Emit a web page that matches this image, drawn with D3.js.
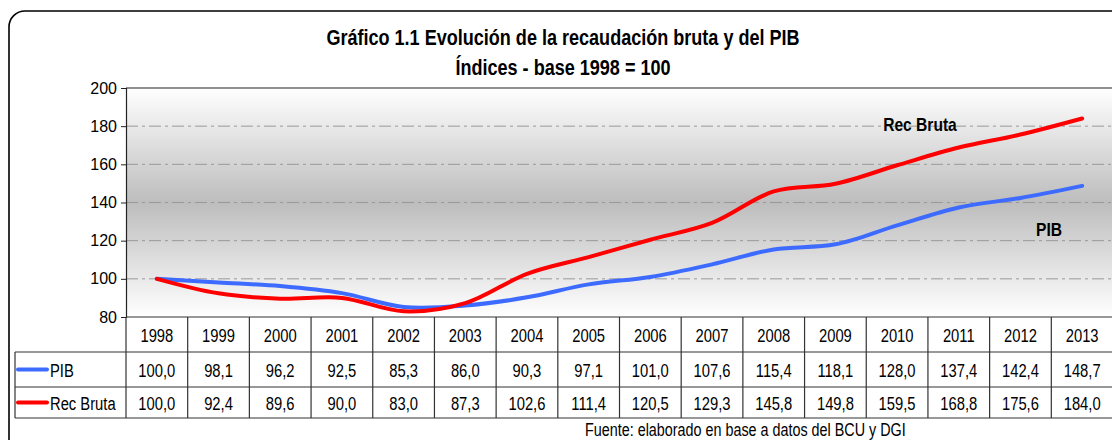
<!DOCTYPE html>
<html>
<head>
<meta charset="utf-8">
<script src="https://cdn.jsdelivr.net/npm/d3@7"></script>
<style>
  body { margin: 0; background: #fff; }
  svg { display: block; font-family: "Liberation Sans", Arial, sans-serif; }
</style>
</head>
<body>
<script>
// data
let years = ["1998","1999","2000","2001","2002","2003","2004","2005","2006","2007","2008","2009","2010","2011","2012","2013"];
let pib = [100.0, 98.1, 96.2, 92.5, 85.3, 86.0, 90.3, 97.1, 101.0, 107.6, 115.4, 118.1, 128.0, 137.4, 142.4, 148.7];
let recBruta = [100.0, 92.4, 89.6, 90.0, 83.0, 87.3, 102.6, 111.4, 120.5, 129.3, 145.8, 149.8, 159.5, 168.8, 175.6, 184.0];
let yTicks = [80, 100, 120, 140, 160, 180, 200];

let width = 1112, height = 440;

let svg = d3.select("body").append("svg")
            .attr("width", width)
            .attr("height", height);

// gradient for plot background
let defs = svg.append("defs");
let grad = defs.append("linearGradient").attr("id", "bg").attr("x1", 0).attr("y1", 0).attr("x2", 0).attr("y2", 1);
grad.append("stop").attr("offset", "0%").attr("stop-color", "#ffffff");
grad.append("stop").attr("offset", "50%").attr("stop-color", "#bdbdbd");
grad.append("stop").attr("offset", "100%").attr("stop-color", "#ffffff");

// outer frame
svg.append("rect")
   .attr("x", 9).attr("y", 11)
   .attr("width", 1130).attr("height", 445)
   .attr("rx", 16).attr("ry", 16)
   .attr("fill", "#fff")
   .attr("stroke", "#000")
   .attr("stroke-width", 1.6);

let x = d3.scaleBand()
          .domain(years)
          .range([126, 1113]);

let y = d3.scaleLinear()
          .domain([80, 200])
          .range([317, 88]);

// plot area
svg.append("rect")
   .attr("x", x.range()[0]).attr("y", y(200))
   .attr("width", x.range()[1] - x.range()[0])
   .attr("height", y(80) - y(200))
   .attr("fill", "url(#bg)");

// gridlines
svg.append("g")
   .selectAll("line")
   .data(yTicks.filter(d => d > 80 && d < 200))
   .join("line")
   .attr("x1", x.range()[0]).attr("x2", x.range()[1])
   .attr("y1", d => y(d)).attr("y2", d => y(d))
   .attr("stroke", "#999")
   .attr("stroke-width", 1)
   .attr("stroke-dasharray", "12,4,3,4");

// top border
svg.append("line")
   .attr("x1", x.range()[0]).attr("x2", x.range()[1])
   .attr("y1", y(200)).attr("y2", y(200))
   .attr("stroke", "#222").attr("stroke-width", 1.2);

// y axis
let yAxis = svg.append("g")
   .attr("transform", `translate(${x.range()[0]},0)`)
   .call(d3.axisLeft(y).tickValues(yTicks).tickSize(5).tickPadding(4));
yAxis.select(".domain").attr("stroke", "#222").attr("stroke-width", 1.2);
yAxis.selectAll(".tick line").attr("stroke", "#222");
yAxis.selectAll("text").attr("font-size", 16).attr("fill", "#000").attr("font-family", "inherit");

// lines
let line = d3.line()
             .x((d, i) => x(years[i]) + x.bandwidth() / 2)
             .y(d => y(d))
             .curve(d3.curveCatmullRom.alpha(0.5));

svg.append("path")
   .datum(pib)
   .attr("d", line)
   .attr("fill", "none")
   .attr("stroke", "#3d6bff")
   .attr("stroke-width", 4)
   .attr("stroke-linecap", "round");

svg.append("path")
   .datum(recBruta)
   .attr("d", line)
   .attr("fill", "none")
   .attr("stroke", "#ff0000")
   .attr("stroke-width", 4)
   .attr("stroke-linecap", "round");

// series labels
svg.append("text").attr("x", 920).attr("y", 131).attr("class", "narrow")
   .attr("text-anchor", "middle").attr("font-weight", "bold").attr("font-size", 19)
   .text("Rec Bruta");
svg.append("text").attr("x", 1049).attr("y", 236).attr("class", "narrow")
   .attr("text-anchor", "middle").attr("font-weight", "bold").attr("font-size", 19)
   .text("PIB");

// title
svg.append("text").attr("x", 563).attr("y", 45).attr("class", "narrow")
   .attr("text-anchor", "middle").attr("font-weight", "bold").attr("font-size", 22)
   .text("Gráfico 1.1 Evolución de la recaudación bruta y del PIB");
svg.append("text").attr("x", 563).attr("y", 75).attr("class", "narrow")
   .attr("text-anchor", "middle").attr("font-weight", "bold").attr("font-size", 22)
   .text("Índices - base 1998 = 100");

// data table
let rowTop = [317, 352, 387];
let rowBottom = 418;
let tableLeft = 15;
let fmt = v => d3.format(".1f")(v).replace(".", ",");
let table = svg.append("g");
let rows = [
  {name: "PIB", values: pib, color: "#3d6bff"},
  {name: "Rec Bruta", values: recBruta, color: "#ff0000"}
];

// header cells
table.selectAll(".hdr")
     .data(years)
     .join("text")
     .attr("class", "narrow")
     .attr("x", d => x(d) + x.bandwidth() / 2)
     .attr("y", (rowTop[0] + rowTop[1]) / 2 + 7)
     .attr("text-anchor", "middle")
     .attr("font-size", 18)
     .text(d => d);

rows.forEach(function(r, ri) {
  let top = rowTop[ri + 1];
  let bottom = ri + 2 < rowTop.length ? rowTop[ri + 2] : rowBottom;
  let mid = (top + bottom) / 2;
  table.append("line")
       .attr("x1", 18).attr("x2", 47)
       .attr("y1", mid).attr("y2", mid)
       .attr("stroke", r.color).attr("stroke-width", 4).attr("stroke-linecap", "round");
  table.append("text").attr("x", 50).attr("y", mid + 7.5).attr("class", "narrow")
       .attr("font-size", 18).text(r.name);
  table.selectAll(".v" + ri)
       .data(r.values)
       .join("text")
       .attr("class", "narrow")
       .attr("x", (d, i) => x(years[i]) + x.bandwidth() / 2)
       .attr("y", mid + 7.5)
       .attr("text-anchor", "middle")
       .attr("font-size", 18)
       .text(d => fmt(d));
});

// table grid
let gridColor = "#333";
table.append("line").attr("x1", x.range()[0]).attr("x2", x.range()[1])
     .attr("y1", rowTop[0]).attr("y2", rowTop[0]).attr("stroke", gridColor).attr("stroke-width", 1.2);
[rowTop[1], rowTop[2], rowBottom].forEach(function(yy) {
  table.append("line").attr("x1", tableLeft).attr("x2", x.range()[1])
       .attr("y1", yy).attr("y2", yy).attr("stroke", gridColor).attr("stroke-width", 1.2);
});
table.append("line").attr("x1", tableLeft).attr("x2", tableLeft)
     .attr("y1", rowTop[1]).attr("y2", rowBottom).attr("stroke", gridColor).attr("stroke-width", 1.2);
years.forEach(function(yr) {
  table.append("line").attr("x1", x(yr)).attr("x2", x(yr))
       .attr("y1", rowTop[0]).attr("y2", rowBottom).attr("stroke", gridColor).attr("stroke-width", 1.2);
});

// source note
svg.append("text").attr("x", 585).attr("y", 436).attr("class", "narrow")
   .attr("font-size", 17.5).text("Fuente: elaborado en base a datos del BCU y DGI");

// fake a narrow face: squeeze the glyphs horizontally (no Arial Narrow here)
svg.selectAll("text.narrow").each(function() {
  let w = this.getComputedTextLength();
  d3.select(this).attr("textLength", w * 0.82).attr("lengthAdjust", "spacingAndGlyphs");
});
</script>
</body>
</html>
